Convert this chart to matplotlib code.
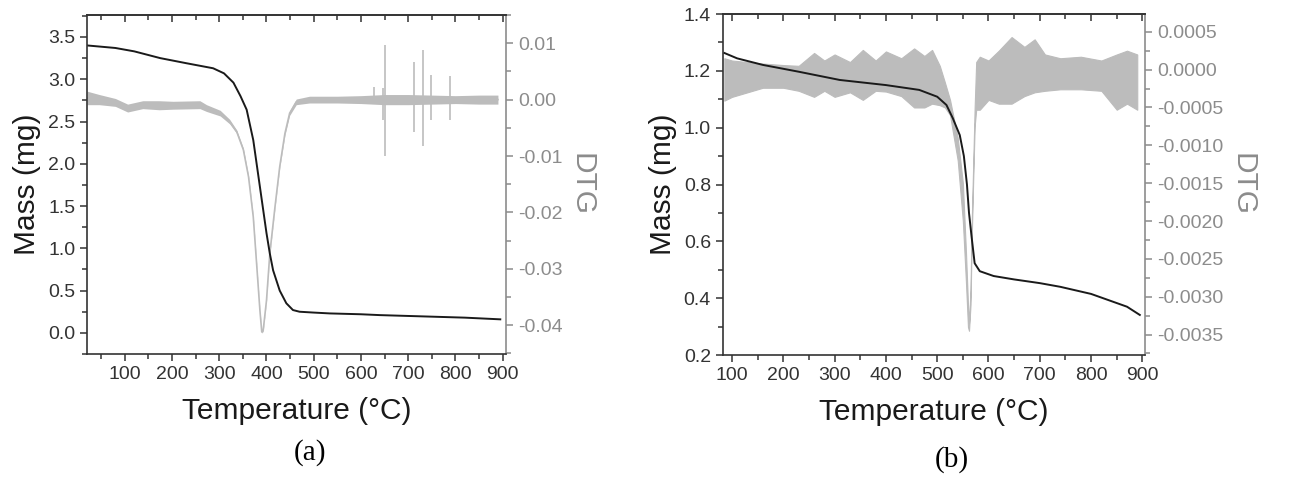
import numpy as np
import matplotlib
matplotlib.use("Agg")
import matplotlib.pyplot as plt
from matplotlib.ticker import MultipleLocator, FuncFormatter

plt.rcParams['font.family'] = ['Liberation Sans', 'DejaVu Sans']
plt.rcParams['axes.unicode_minus'] = False

# ---- panel (a) : mass curve ----
mass_a_T = [20, 80, 120, 175, 230, 287, 310, 330, 345, 358, 372, 386, 400, 407, 414, 428,
            442, 456, 470, 500, 534, 600, 640, 700, 760, 820, 895]
mass_a = [3.40, 3.37, 3.33, 3.25, 3.19, 3.13, 3.07, 2.96, 2.80, 2.64, 2.28, 1.73, 1.18, 0.94,
          0.74, 0.50, 0.35, 0.27, 0.25, 0.24, 0.23, 0.22, 0.21, 0.20, 0.19, 0.18, 0.16]

# ---- panel (a) : DTG (centre line + noise half width) ----
dtg_a_T = [20, 46, 80, 106, 138, 173, 202, 259, 273, 302, 322, 337, 351, 362, 372, 379, 386,
           390, 393, 400, 407, 418, 428, 439, 449, 463, 491, 550, 600, 650, 700, 750, 800, 850, 890]
dtg_a = [0.0003, 0.0000, -0.0005, -0.0015, -0.0009, -0.0010, -0.0010, -0.0009, -0.0015, -0.0024,
         -0.0039, -0.0057, -0.0089, -0.0137, -0.0208, -0.0290, -0.0373, -0.0412, -0.0409, -0.0356,
         -0.0273, -0.0190, -0.0119, -0.0060, -0.0024, -0.0004, 0.0000, 0.0000, 0.0000, 0.0000,
         0.0000, 0.0000, 0.0000, 0.0000, 0.0000]
dtg_a_noise = [0.0012, 0.0009, 0.0007, 0.0007, 0.0007, 0.0008, 0.0007, 0.0007, 0.0006, 0.0005,
               0.0004, 0.0003, 0.0003, 0.0002, 0.0002, 0.0002, 0.0002, 0.0002, 0.0002, 0.0002,
               0.0002, 0.0002, 0.0002, 0.0003, 0.0004, 0.0005, 0.0006, 0.0006, 0.0007, 0.0009,
               0.0009, 0.0008, 0.0007, 0.0008, 0.0008]
spike_a_T = [627, 646, 651, 713, 731, 748, 789]
spike_a_top = [0.0023, 0.0020, 0.0097, 0.0067, 0.0088, 0.0044, 0.0041]
spike_a_bot = [-0.0005, -0.0036, -0.0100, -0.0057, -0.0083, -0.0036, -0.0036]

# ---- panel (b) : mass curve ----
mass_b_T = [85, 110, 160, 230, 310, 400, 465, 500, 518, 530, 544, 552, 558, 562, 567, 570,
            573, 583, 610, 650, 700, 740, 800, 870, 895]
mass_b = [1.263, 1.244, 1.221, 1.197, 1.168, 1.150, 1.133, 1.109, 1.080, 1.035, 0.974, 0.900,
          0.800, 0.700, 0.617, 0.570, 0.523, 0.495, 0.478, 0.466, 0.453, 0.440, 0.415, 0.370, 0.341]

# ---- panel (b) : DTG, upper / lower edge of the noisy trace ----
dtg_b_T = [85, 100, 130, 160, 200, 230, 260, 280, 300, 330, 355, 380, 400, 430, 455, 475, 490,
           505, 515, 525, 540, 550, 556, 560, 562, 565, 567, 570, 573, 576, 583, 600, 620, 645,
           670, 690, 710, 740, 780, 820, 850, 870, 890]
dtg_b_hi = [0.00015, 0.00012, 0.00010, 0.00008, 0.00006, 0.00005, 0.00022, 0.00012, 0.00020,
            0.00010, 0.00026, 0.00012, 0.00024, 0.00015, 0.00028, 0.00018, 0.00026, 0.00005,
            -0.00017, -0.00040, -0.00090, -0.00150, -0.00240, -0.00310, -0.00335, -0.00290,
            -0.00210, -0.00130, -0.00050, 0.00010, 0.00017, 0.00012, 0.00025, 0.00043, 0.00030,
            0.00040, 0.00020, 0.00015, 0.00017, 0.00012, 0.00020, 0.00025, 0.00020]
dtg_b_lo = [-0.00041, -0.00036, -0.00030, -0.00024, -0.00024, -0.00028, -0.00036, -0.00028,
            -0.00036, -0.00030, -0.00040, -0.00028, -0.00029, -0.00035, -0.00050, -0.00050,
            -0.00045, -0.00047, -0.00050, -0.00060, -0.00120, -0.00200, -0.00280, -0.00340,
            -0.00345, -0.00310, -0.00230, -0.00150, -0.00075, -0.00053, -0.00053, -0.00040,
            -0.00045, -0.00045, -0.00035, -0.00030, -0.00028, -0.00026, -0.00026, -0.00028,
            -0.00053, -0.00045, -0.00053]

BLACK = '#1a1a1a'
GRAY = '#bcbcbc'
AXGRAY = '#8c8c8c'
TICK_FS = 14
LABEL_FS = 21.5


def zero_fmt(fmt):
    def f(v, pos):
        if abs(v) < 1e-12:
            v = 0.0
        return fmt % v
    return FuncFormatter(f)


def style_panel(ax, tw, xlim, ylim, y2lim, ymaj, ymin, y2maj, y2min, y2fmt, yfmt):
    ax.set_xlim(*xlim)
    ax.set_ylim(*ylim)
    tw.set_ylim(*y2lim)
    ax.xaxis.set_major_locator(MultipleLocator(100))
    ax.xaxis.set_minor_locator(MultipleLocator(50))
    ax.yaxis.set_major_locator(MultipleLocator(ymaj))
    ax.yaxis.set_minor_locator(MultipleLocator(ymin))
    ax.yaxis.set_major_formatter(zero_fmt(yfmt))
    tw.yaxis.set_major_locator(MultipleLocator(y2maj))
    tw.yaxis.set_minor_locator(MultipleLocator(y2min))
    tw.yaxis.set_major_formatter(zero_fmt(y2fmt))
    for s in ['left', 'bottom', 'top']:
        ax.spines[s].set_color('#333333')
        ax.spines[s].set_linewidth(1.2)
    ax.spines['right'].set_visible(False)
    for s in ['left', 'bottom', 'top']:
        tw.spines[s].set_visible(False)
    tw.spines['right'].set_color(AXGRAY)
    tw.spines['right'].set_linewidth(1.2)
    ax.tick_params(which='both', direction='out', colors='#333333', labelsize=TICK_FS,
                   top=False, width=1.1)
    ax.tick_params(which='major', length=5)
    ax.tick_params(which='minor', length=3.5)
    tw.tick_params(which='both', direction='out', colors=AXGRAY, labelsize=TICK_FS, width=1.1)
    tw.tick_params(which='major', length=5)
    tw.tick_params(which='minor', length=3.5)
    sec = ax.secondary_xaxis('top')
    sec.xaxis.set_major_locator(MultipleLocator(100))
    sec.xaxis.set_minor_locator(MultipleLocator(50))
    sec.tick_params(which='both', direction='in', labeltop=False, colors='#333333', width=1.1)
    sec.tick_params(which='major', length=5)
    sec.tick_params(which='minor', length=3.5)
    sec.spines['top'].set_color('#333333')
    sec.spines['top'].set_linewidth(1.2)
    ax.set_xlabel('Temperature (\u00b0C)', fontsize=LABEL_FS, color=BLACK, labelpad=10)
    ax.set_ylabel('Mass (mg)', fontsize=LABEL_FS, color=BLACK, labelpad=5)
    tw.set_ylabel('DTG', fontsize=LABEL_FS, color=AXGRAY, rotation=270, labelpad=24)
    ax.set_zorder(tw.get_zorder() + 1)
    ax.patch.set_visible(False)


fig = plt.figure(figsize=(12.93, 4.84), dpi=100)

# panel (a)
ax_a = fig.add_axes([0.0673, 0.2686, 0.3240, 0.7004])
tw_a = ax_a.twinx()
da = np.array(dtg_a)
na = np.array(dtg_a_noise)
tw_a.fill_between(dtg_a_T, da - na, da + na, color=GRAY, lw=0)
tw_a.plot(dtg_a_T, dtg_a, color=GRAY, lw=1.2)
tw_a.vlines(spike_a_T, spike_a_bot, spike_a_top, color=GRAY, lw=1.2)
ax_a.plot(mass_a_T, mass_a, color=BLACK, lw=1.4)
style_panel(ax_a, tw_a, (20, 907), (-0.25, 3.76), (-0.0451, 0.0150),
            0.5, 0.25, 0.01, 0.005, '%.2f', '%.1f')

# panel (b)
ax_b = fig.add_axes([0.5590, 0.2665, 0.3265, 0.7045])
tw_b = ax_b.twinx()
tw_b.fill_between(dtg_b_T, dtg_b_lo, dtg_b_hi, color=GRAY, lw=0.8, edgecolor=GRAY)
ax_b.plot(mass_b_T, mass_b, color=BLACK, lw=1.4)
style_panel(ax_b, tw_b, (82, 905), (0.2, 1.4), (-0.00377, 0.000734),
            0.2, 0.1, 0.0005, 0.00025, '%.4f', '%.1f')

fig.text(0.240, 0.064, '(a)', fontsize=21, family='Liberation Serif', ha='center', va='center')
fig.text(0.736, 0.050, '(b)', fontsize=21, family='Liberation Serif', ha='center', va='center')

fig.savefig('out.png', dpi=100)
